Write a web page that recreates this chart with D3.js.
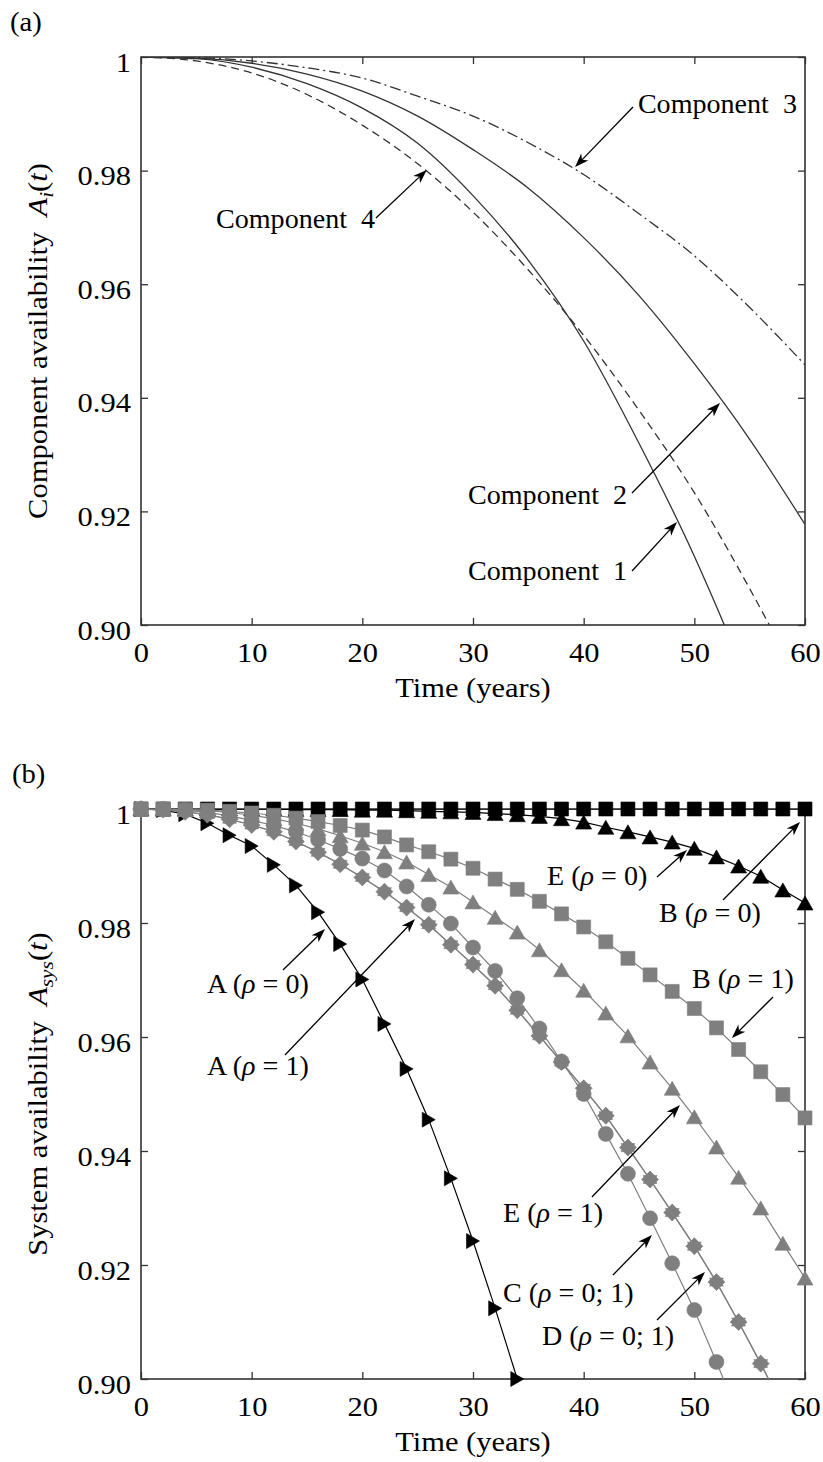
<!DOCTYPE html>
<html><head><meta charset="utf-8">
<script src="https://cdn.jsdelivr.net/npm/d3@7"></script>
<style>
html,body{margin:0;padding:0;background:#fff;}
svg text{font-family:"Liberation Serif","Times New Roman",serif;white-space:pre;}
</style></head><body>
<svg id="chart" width="823" height="1462"></svg>
<script>
// ---------------- DATA ----------------
const xTicks = [0, 10, 20, 30, 40, 50, 60];
const xTickLabels = ["0", "10", "20", "30", "40", "50", "60"];
const yTicks = [0.90, 0.92, 0.94, 0.96, 0.98, 1.00];
const yTickLabels = ["0.90", "0.92", "0.94", "0.96", "0.98", "1"];

// panel (a): component availability, years 0..60 every 5
const timeA = [0, 5, 10, 15, 20, 25, 30, 35, 40, 45, 50, 55, 60];
const comp1 = [1.0, 0.9997, 0.9982, 0.9953, 0.9910, 0.9848, 0.9756, 0.9642, 0.9500, 0.9320, 0.9121, 0.8888, 0.8600];
const comp2 = [1.0, 0.9998, 0.9989, 0.9970, 0.9940, 0.9896, 0.9837, 0.9769, 0.9682, 0.9580, 0.9460, 0.9327, 0.9177];
const comp3 = [1.0, 0.9999, 0.9993, 0.9981, 0.9963, 0.9931, 0.9896, 0.9849, 0.9793, 0.9724, 0.9650, 0.9559, 0.9458];
const comp4 = [1.0, 0.9993, 0.9972, 0.9934, 0.9880, 0.9812, 0.9727, 0.9625, 0.9510, 0.9378, 0.9233, 0.9064, 0.8880];

// panel (b): system availability, years 0..60 every 2
const timeB = [0, 2, 4, 6, 8, 10, 12, 14, 16, 18, 20, 22, 24, 26, 28, 30, 32, 34, 36, 38, 40, 42, 44, 46, 48, 50, 52, 54, 56, 58, 60];
const sysA0 = [1.0, 0.9998, 0.9991, 0.9975, 0.9954, 0.9935, 0.9902, 0.9866, 0.9819, 0.9763, 0.9701, 0.9623, 0.9544, 0.9455, 0.9352, 0.9242, 0.9124, 0.9000];
const sysB0 = [1, 1, 1, 1, 1, 1, 1, 1, 1, 1, 1, 1, 1, 1, 1, 1, 1, 1, 1, 1, 1, 1, 1, 1, 1, 1, 1, 1, 1, 1, 1];
const sysE0 = [1, 1, 1, 1, 1, 1, 1, 0.9999, 0.9999, 0.9999, 0.9998, 0.9998, 0.9997, 0.9996, 0.9995, 0.9994, 0.9992, 0.9990, 0.9987, 0.9983, 0.9977, 0.9968, 0.9960, 0.9951, 0.9942, 0.9931, 0.9916, 0.9900, 0.9882, 0.9858, 0.9835];
const sysB1 = [1, 1, 0.9999, 0.9998, 0.9996, 0.9993, 0.9989, 0.9984, 0.9978, 0.9971, 0.9963, 0.9951, 0.9937, 0.9925, 0.9912, 0.9896, 0.9877, 0.9859, 0.9838, 0.9816, 0.9793, 0.9767, 0.9738, 0.9709, 0.9680, 0.9650, 0.9616, 0.9578, 0.9539, 0.9499, 0.9458];
const sysE1 = [1, 1, 0.9999, 0.9997, 0.9994, 0.9989, 0.9983, 0.9975, 0.9965, 0.9953, 0.9940, 0.9925, 0.9907, 0.9885, 0.9863, 0.9837, 0.9810, 0.9784, 0.9753, 0.9718, 0.9682, 0.9642, 0.9602, 0.9556, 0.9510, 0.9460, 0.9407, 0.9354, 0.9300, 0.9238, 0.9177];
const sysC = [1, 1, 0.9998, 0.9994, 0.9988, 0.9980, 0.9971, 0.9960, 0.9946, 0.9930, 0.9913, 0.9892, 0.9864, 0.9832, 0.9799, 0.9757, 0.9716, 0.9668, 0.9615, 0.9557, 0.9500, 0.9430, 0.9360, 0.9282, 0.9203, 0.9121, 0.9030, 0.8935];
const sysD = [1, 0.9999, 0.9995, 0.9990, 0.9982, 0.9972, 0.9960, 0.9943, 0.9924, 0.9903, 0.9880, 0.9855, 0.9827, 0.9797, 0.9762, 0.9727, 0.9690, 0.9647, 0.9602, 0.9556, 0.9510, 0.9462, 0.9406, 0.9350, 0.9292, 0.9233, 0.9170, 0.9100, 0.9027, 0.8950];
const sysA1 = [1, 0.9999, 0.9995, 0.9990, 0.9982, 0.9972, 0.9960, 0.9943, 0.9924, 0.9903, 0.9880, 0.9855, 0.9827, 0.9797, 0.9762, 0.9727, 0.9690, 0.9647, 0.9602, 0.9556, 0.9510, 0.9462, 0.9406, 0.9350, 0.9292, 0.9233, 0.9170, 0.9100, 0.9027, 0.8950];

// annotations (data units)
const annotA = [
  {parts: [{t: "Component  3"}], at: [44.9, 0.99014], from: [44.46, 0.99120], to: [39.22, 0.98063]},
  {parts: [{t: "Component  4"}], at: [6.78, 0.96989], from: [21.23, 0.97165], to: [25.82, 0.98011]},
  {parts: [{t: "Component  2"}], at: [29.55, 0.92130], from: [44.37, 0.92324], to: [52.32, 0.93908]},
  {parts: [{t: "Component  1"}], at: [29.55, 0.90792], from: [44.37, 0.90951], to: [48.43, 0.91813]}
];
const annotB = [
  {parts: [{t: "E ("}, {t: "\u03C1", i: true}, {t: " = 0)"}], at: [36.69, 0.98667], from: [46.63, 0.98807], to: [49.34, 0.99281]},
  {parts: [{t: "B ("}, {t: "\u03C1", i: true}, {t: " = 0)"}], at: [46.81, 0.98018], from: [52.59, 0.98404], to: [59.55, 0.99772]},
  {parts: [{t: "B ("}, {t: "\u03C1", i: true}, {t: " = 1)"}], at: [49.79, 0.96860], from: [57.11, 0.96702], to: [53.40, 0.95982]},
  {parts: [{t: "A ("}, {t: "\u03C1", i: true}, {t: " = 0)"}], at: [5.96, 0.96772], from: [12.83, 0.97175], to: [16.63, 0.97895]},
  {parts: [{t: "A ("}, {t: "\u03C1", i: true}, {t: " = 1)"}], at: [5.96, 0.95333], from: [13.01, 0.95684], to: [24.76, 0.98070]},
  {parts: [{t: "E ("}, {t: "\u03C1", i: true}, {t: " = 1)"}], at: [32.71, 0.92754], from: [40.75, 0.93193], to: [48.70, 0.94807]},
  {parts: [{t: "C ("}, {t: "\u03C1", i: true}, {t: " = 0; 1)"}], at: [32.71, 0.91351], from: [42.65, 0.91825], to: [46.17, 0.92526]},
  {parts: [{t: "D ("}, {t: "\u03C1", i: true}, {t: " = 0; 1)"}], at: [36.23, 0.90596], from: [46.63, 0.91035], to: [50.96, 0.91877]}
];

// ---------------- DRAWING ----------------
const svg = d3.select('#chart');
const LEFT = 141, RIGHT = 805;
const AX = '#333';
const GRAY = '#7f7f7f';
const FS = 27;

function addText(g, x, y, parts, o) {
  o = o || {};
  const size = o.size || FS;
  const t = g.append('text')
    .attr('transform', `translate(${x},${y})${o.rotate ? ' rotate(-90)' : ''} scale(${o.sx || 1},1)`)
    .attr('text-anchor', o.anchor || 'start')
    .attr('font-size', size)
    .attr('fill', '#000');
  parts.forEach(p => {
    const ts = t.append('tspan').text(p.t);
    if (p.i) ts.attr('font-style', 'italic');
    if (p.sub) ts.attr('font-size', size * 0.7).attr('dy', size * 0.22);
    if (p.back) ts.attr('dy', -size * 0.22);
  });
  return t;
}

function arrow(g, x1, y1, x2, y2) {
  const a = Math.atan2(y2 - y1, x2 - x1);
  const L = 14, back = 10, W = 5;
  const bx = x2 - back * Math.cos(a), by = y2 - back * Math.sin(a);
  g.append('line').attr('x1', x1).attr('y1', y1).attr('x2', bx).attr('y2', by)
    .attr('stroke', '#000').attr('stroke-width', 1.3);
  g.append('path')
    .attr('d', `M0,0L${-L},${-W}L${-back},0L${-L},${W}Z`)
    .attr('transform', `translate(${x2},${y2}) rotate(${a * 180 / Math.PI})`)
    .attr('fill', '#000');
}

function makePanel(top, bottom, id) {
  const x = d3.scaleLinear().domain([0, 60]).range([LEFT, RIGHT]);
  const y = d3.scaleLinear().domain([0.9, 1]).range([bottom, top]);
  const g = svg.append('g');
  g.append('clipPath').attr('id', id).append('rect')
    .attr('x', LEFT).attr('y', top).attr('width', RIGHT - LEFT).attr('height', bottom - top);

  const styleAx = sel => {
    sel.select('.domain').remove();
    sel.selectAll('line').attr('stroke', AX).attr('stroke-width', 1.3);
    sel.attr('font-family', null).attr('font-size', null);
  };
  const bx = g.append('g').attr('transform', `translate(0,${bottom})`)
    .call(d3.axisBottom(x).tickValues(xTicks).tickSizeInner(-7).tickSizeOuter(0).tickFormat((d, i) => xTickLabels[i]));
  styleAx(bx);
  bx.selectAll('text').attr('x', null).attr('y', null).attr('dy', null)
    .attr('transform', 'translate(0,37) scale(1.13,1)').attr('font-size', FS).attr('fill', '#000');
  const tx = g.append('g').attr('transform', `translate(0,${top})`)
    .call(d3.axisTop(x).tickValues(xTicks).tickSizeInner(-7).tickSizeOuter(0).tickFormat(''));
  styleAx(tx);
  const ly = g.append('g').attr('transform', `translate(${LEFT},0)`)
    .call(d3.axisLeft(y).tickValues(yTicks).tickSizeInner(-7).tickSizeOuter(0).tickFormat((d, i) => yTickLabels[i]));
  styleAx(ly);
  ly.selectAll('text').attr('x', null).attr('y', null).attr('dy', null)
    .attr('transform', 'translate(-10,14) scale(1.13,1)').attr('font-size', FS).attr('fill', '#000')
    .attr('text-anchor', 'end');
  const ry = g.append('g').attr('transform', `translate(${RIGHT},0)`)
    .call(d3.axisRight(y).tickValues(yTicks).tickSizeInner(-7).tickSizeOuter(0).tickFormat(''));
  styleAx(ry);
  g.append('rect').attr('x', LEFT).attr('y', top).attr('width', RIGHT - LEFT).attr('height', bottom - top)
    .attr('fill', 'none').attr('stroke', AX).attr('stroke-width', 1.6);

  addText(g, (LEFT + RIGHT) / 2, bottom + 72, [{t: 'Time (years)'}], {anchor: 'middle', sx: 1.13});
  return {x, y, g, clip: `url(#${id})`};
}

// ---- Panel (a)
const pa = makePanel(57, 625, 'clipA');
addText(svg, 10, 31, [{t: '(a)'}], {sx: 1.06});
addText(svg, 47, (57 + 625) / 2,
  [{t: 'Component availability  '}, {t: 'A', i: true}, {t: 'i', i: true, sub: true}, {t: '(', back: true}, {t: 't', i: true}, {t: ')'}],
  {rotate: true, anchor: 'middle', sx: 1.13});

const seriesA = [
  {v: comp1, dash: null},
  {v: comp2, dash: null},
  {v: comp3, dash: '11,4,2,4'},
  {v: comp4, dash: '8,5'}
];
const lineA = d3.line().x(d => pa.x(d[0])).y(d => pa.y(d[1])).curve(d3.curveMonotoneX);
const la = pa.g.append('g').attr('clip-path', pa.clip);
seriesA.forEach(s => {
  la.append('path').datum(timeA.map((t, i) => [t, s.v[i]]))
    .attr('d', lineA).attr('fill', 'none').attr('stroke', '#333').attr('stroke-width', 1.3)
    .attr('stroke-dasharray', s.dash);
});
annotA.forEach(a => {
  addText(pa.g, pa.x(a.at[0]), pa.y(a.at[1]), a.parts, {sx: 1.04});
  arrow(pa.g, pa.x(a.from[0]), pa.y(a.from[1]), pa.x(a.to[0]), pa.y(a.to[1]));
});

// ---- Panel (b)
const pb = makePanel(809, 1379, 'clipB');
addText(svg, 12, 783, [{t: '(b)'}], {sx: 1.06});
addText(svg, 47, (809 + 1379) / 2,
  [{t: 'System availability  '}, {t: 'A', i: true}, {t: 'sys', i: true, sub: true}, {t: '(', back: true}, {t: 't', i: true}, {t: ')'}],
  {rotate: true, anchor: 'middle', sx: 1.13});

function shape(type) {
  switch (type) {
    case 'square': { const s = 14; return `M${-s / 2},${-s / 2}h${s}v${s}h${-s}Z`; }
    case 'circle': { const r = 7.5; return `M${r},0A${r},${r} 0 1,1 ${-r},0A${r},${r} 0 1,1 ${r},0Z`; }
    case 'diamond': { const r = 8.5; return `M0,${-r}L${r},0L0,${r}L${-r},0Z`; }
    case 'triUp': { const w = 16, h = 14; return `M0,${-h / 2}L${w / 2},${h / 2}L${-w / 2},${h / 2}Z`; }
    case 'triRight': { const w = 15, h = 13; return `M${h / 2},0L${-h / 2},${w / 2}L${-h / 2},${-w / 2}Z`; }
    case 'hexagram': {
      const R = 8, r = 4.6; let d = '';
      for (let k = 0; k < 12; k++) {
        const ang = -Math.PI / 2 + k * Math.PI / 6, rr = k % 2 ? r : R;
        d += (k ? 'L' : 'M') + (rr * Math.cos(ang)).toFixed(2) + ',' + (rr * Math.sin(ang)).toFixed(2);
      }
      return d + 'Z';
    }
  }
}

const seriesB = [
  {v: sysB0, color: '#000', marker: 'square'},
  {v: sysE0, color: '#000', marker: 'triUp'},
  {v: sysA0, color: '#000', marker: 'triRight'},
  {v: sysB1, color: GRAY, marker: 'square'},
  {v: sysE1, color: GRAY, marker: 'triUp'},
  {v: sysA1, color: GRAY, marker: 'hexagram'},
  {v: sysD, color: GRAY, marker: 'diamond'},
  {v: sysC, color: GRAY, marker: 'circle'}
];
const lineB = d3.line().x(d => pb.x(d[0])).y(d => pb.y(d[1]));
const lb = pb.g.append('g');
seriesB.forEach(s => {
  const pts = s.v.map((v, i) => [timeB[i], v]);
  lb.append('path').datum(pts).attr('clip-path', pb.clip)
    .attr('d', lineB).attr('fill', 'none').attr('stroke', s.color).attr('stroke-width', 1.2);
  lb.append('g').selectAll('path').data(pts.filter(p => p[1] >= 0.8999)).join('path')
    .attr('d', shape(s.marker))
    .attr('transform', p => `translate(${pb.x(p[0])},${pb.y(p[1])})`)
    .attr('fill', s.color).attr('stroke', s.color).attr('stroke-width', 0.6);
});
annotB.forEach(a => {
  addText(pb.g, pb.x(a.at[0]), pb.y(a.at[1]), a.parts, {sx: 1.04});
  arrow(pb.g, pb.x(a.from[0]), pb.y(a.from[1]), pb.x(a.to[0]), pb.y(a.to[1]));
});
</script>
</body></html>
